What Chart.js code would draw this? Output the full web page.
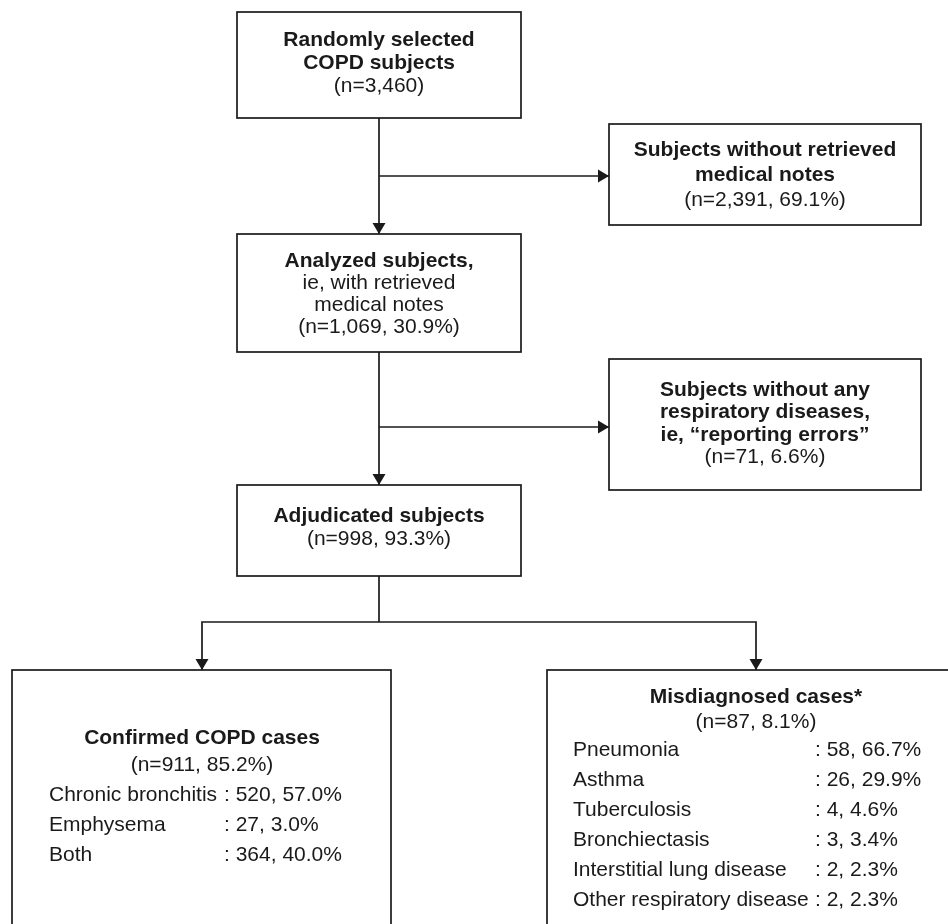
<!DOCTYPE html>
<html>
<head>
<meta charset="utf-8">
<script src="https://cdn.jsdelivr.net/npm/chart.js@4.4.0/dist/chart.umd.min.js"></script>
<style>
  body { margin: 0; background: #fff; }
  #wrap { width: 948px; height: 924px; }
</style>
</head>
<body>
<div id="wrap"><canvas id="flow" width="948" height="924"></canvas></div>
<script>
// counts
const totalSelected = 3460;
const stageN = [2391, 1069, 71, 998, 911, 87];
const stagePct = [69.1, 30.9, 6.6, 93.3, 85.2, 8.1];
const copdTypes = ["Chronic bronchitis", "Emphysema", "Both"];
const copdN = [520, 27, 364];
const copdPct = [57.0, 3.0, 40.0];
const misdiagnoses = ["Pneumonia", "Asthma", "Tuberculosis", "Bronchiectasis", "Interstitial lung disease", "Other respiratory disease"];
const misdiagnosisN = [58, 26, 4, 3, 2, 2];
const misdiagnosisPct = [66.7, 29.9, 4.6, 3.4, 2.3, 2.3];

const fmtN = (n) => n.toLocaleString("en-US");
const nPct = (i) => `(n=${fmtN(stageN[i])}, ${stagePct[i].toFixed(1)}%)`;
const listValue = (n, p) => `: ${fmtN(n)}, ${p.toFixed(1)}%`;

// layout in flowchart units (same as the 948x924 page)
const boxes = [
  { x0: 237, x1: 521, y0: 12, y1: 118, top: 40, gap: 23,
    lines: [["Randomly selected", true], ["COPD subjects", true], [`(n=${fmtN(totalSelected)})`, false]] },
  { x0: 609, x1: 921, y0: 124, y1: 225, top: 150, gap: 25,
    lines: [["Subjects without retrieved", true], ["medical notes", true], [nPct(0), false]] },
  { x0: 237, x1: 521, y0: 234, y1: 352, top: 261, gap: 22,
    lines: [["Analyzed subjects,", true], ["ie, with retrieved", false], ["medical notes", false], [nPct(1), false]] },
  { x0: 609, x1: 921, y0: 359, y1: 490, top: 390, gap: 22.5,
    lines: [["Subjects without any", true], ["respiratory diseases,", true], ["ie, \u201creporting errors\u201d", true], [nPct(2), false]] },
  { x0: 237, x1: 521, y0: 485, y1: 576, top: 516, gap: 23,
    lines: [["Adjudicated subjects", true], [nPct(3), false]] },
];

const lists = [
  { x0: 12, x1: 391, y0: 670, y1: 940, cx: 202, titleY: 738, nY: 765, listY: 795, step: 30, lx: 49, vx: 224,
    title: "Confirmed COPD cases", n: nPct(4), labels: copdTypes, ns: copdN, pcts: copdPct },
  { x0: 547, x1: 965, y0: 670, y1: 940, cx: 756, titleY: 697, nY: 722, listY: 750, step: 30, lx: 573, vx: 815,
    title: "Misdiagnosed cases*", n: nPct(5), labels: misdiagnoses, ns: misdiagnosisN, pcts: misdiagnosisPct },
];

const connectors = [
  { pts: [[379, 118], [379, 234]], arrow: "down" },
  { pts: [[379, 176], [609, 176]], arrow: "right" },
  { pts: [[379, 352], [379, 485]], arrow: "down" },
  { pts: [[379, 427], [609, 427]], arrow: "right" },
  { pts: [[379, 576], [379, 622]], arrow: null },
  { pts: [[202, 670], [202, 622], [756, 622], [756, 670]], arrow: "both" },
];

const FONT = "'Liberation Sans', Arial, sans-serif";
const INK = "#1a1a1a";

const flowPlugin = {
  id: "flow",
  afterDraw(chart) {
    const ctx = chart.ctx;
    const sx = (v) => chart.scales.x.getPixelForValue(v);
    const sy = (v) => chart.scales.y.getPixelForValue(v);
    ctx.save();
    ctx.strokeStyle = INK;
    ctx.fillStyle = INK;
    ctx.lineWidth = 1.7;

    const arrowHead = (x, y, dir) => {
      const px = sx(x), py = sy(y);
      ctx.beginPath();
      if (dir === "down") {
        ctx.moveTo(px, py);
        ctx.lineTo(px - 6.5, py - 11);
        ctx.lineTo(px + 6.5, py - 11);
      } else {
        ctx.moveTo(px, py);
        ctx.lineTo(px - 11, py - 6.5);
        ctx.lineTo(px - 11, py + 6.5);
      }
      ctx.closePath();
      ctx.fill();
    };

    connectors.forEach((c) => {
      ctx.beginPath();
      c.pts.forEach((p, i) => {
        if (i === 0) ctx.moveTo(sx(p[0]), sy(p[1]));
        else ctx.lineTo(sx(p[0]), sy(p[1]));
      });
      ctx.stroke();
      const last = c.pts[c.pts.length - 1];
      if (c.arrow === "down" || c.arrow === "right") arrowHead(last[0], last[1], c.arrow);
      if (c.arrow === "both") {
        arrowHead(c.pts[0][0], c.pts[0][1], "down");
        arrowHead(last[0], last[1], "down");
      }
    });

    const rect = (b) => {
      ctx.strokeRect(sx(b.x0), sy(b.y0), sx(b.x1) - sx(b.x0), sy(b.y1) - sy(b.y0));
    };

    ctx.textBaseline = "middle";
    boxes.forEach((b) => {
      rect(b);
      const cx = sx((b.x0 + b.x1) / 2);
      ctx.textAlign = "center";
      b.lines.forEach(([txt, bold], i) => {
        ctx.font = `${bold ? "bold " : ""}21px ${FONT}`;
        ctx.fillText(txt, cx, sy(b.top + i * b.gap));
      });
    });

    lists.forEach((l) => {
      rect(l);
      ctx.textAlign = "center";
      ctx.font = `bold 21px ${FONT}`;
      ctx.fillText(l.title, sx(l.cx), sy(l.titleY));
      ctx.font = `21px ${FONT}`;
      ctx.fillText(l.n, sx(l.cx), sy(l.nY));
      ctx.textAlign = "left";
      l.labels.forEach((lab, i) => {
        const y = sy(l.listY + i * l.step);
        ctx.fillText(lab, sx(l.lx), y);
        ctx.fillText(listValue(l.ns[i], l.pcts[i]), sx(l.vx), y);
      });
    });
    ctx.restore();
  },
};

new Chart(document.getElementById("flow"), {
  type: "scatter",
  data: { datasets: [{ data: [] }] },
  options: {
    responsive: false,
    animation: false,
    layout: { padding: 0 },
    scales: {
      x: { type: "linear", min: 0, max: 948, display: false },
      y: { type: "linear", min: 0, max: 924, reverse: true, display: false },
    },
    plugins: { legend: { display: false }, tooltip: { enabled: false } },
  },
  plugins: [flowPlugin],
});
</script>
</body>
</html>
